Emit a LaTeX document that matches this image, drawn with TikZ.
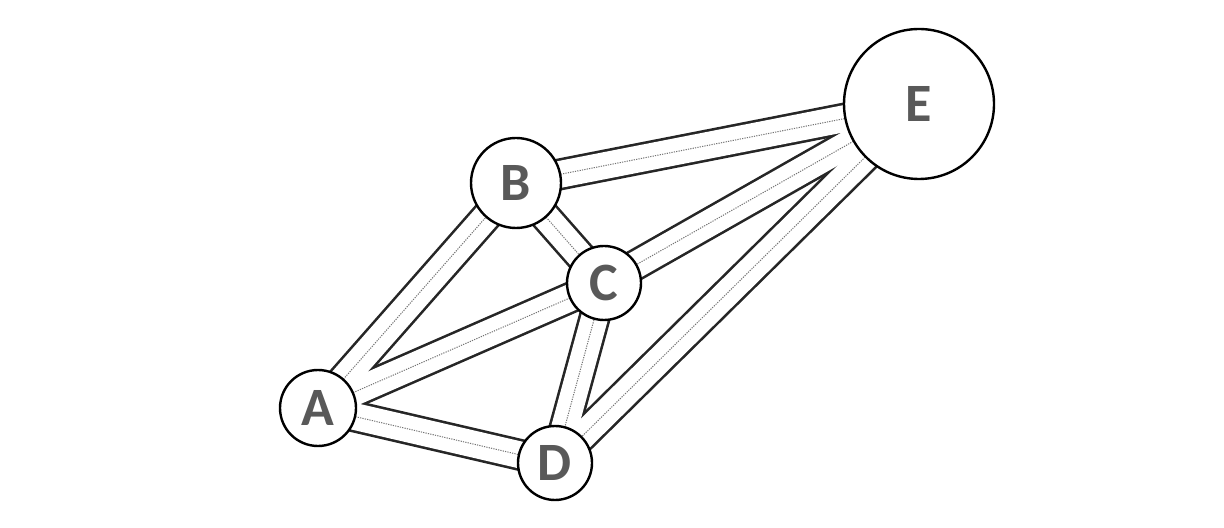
\documentclass[tikz,border=0pt]{standalone}
\usepackage{fontspec}
\setmainfont{Carlito}
\usetikzlibrary{backgrounds}
\begin{document}
\begin{tikzpicture}[x=0.5pt,y=-0.5pt,
  vert/.style={circle,draw=black,line width=1.2pt,fill=white,inner sep=0pt,
    font=\fontsize{27}{27}\selectfont\bfseries,text=black!65},
  pipeout/.style={line width=16pt,black!85},
  pipein/.style={line width=13.4pt,white},
  pipemid/.style={line width=0.5pt,black!55,dash pattern=on 0.6pt off 0.6pt}]
\useasboundingbox (0,0) rectangle (1224,528);
\node[vert,minimum size=38pt] (A) at (318,408) {A};
\node[vert,minimum size=45pt] (B) at (516,183) {B};
\node[vert,minimum size=37pt] (C) at (604,283) {C};
\node[vert,minimum size=37pt] (D) at (555,463) {D};
\node[vert,minimum size=75pt] (E) at (919,104) {E};
\begin{pgfonlayer}{background}
\foreach \a/\b in {A/B,A/C,A/D,B/C,B/E,C/E,C/D,D/E}{
  \draw[pipeout] (\a.center) -- (\b.center);}
\foreach \a/\b in {A/B,A/C,A/D,B/C,B/E,C/E,C/D,D/E}{
  \draw[pipein] (\a.center) -- (\b.center);}
\foreach \a/\b in {A/B,A/C,A/D,B/C,B/E,C/E,C/D,D/E}{
  \draw[pipemid] (\a.center) -- (\b.center);}
\end{pgfonlayer}
\end{tikzpicture}
\end{document}
